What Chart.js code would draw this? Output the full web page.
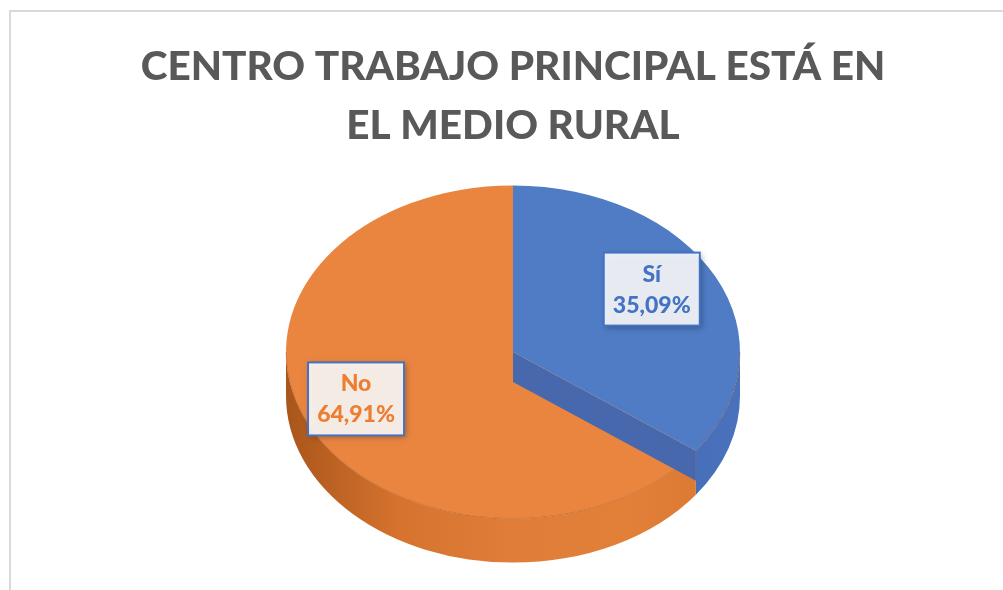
<!DOCTYPE html>
<html>
<head>
<meta charset="utf-8">
<script src="https://cdn.jsdelivr.net/npm/chart.js@4"></script>
<style>
  body { margin: 0; background: #fff; }
  #marco { position: absolute; left: 9px; top: 10px; width: 1100px; height: 700px;
           border-left: 2px solid #d9d9d9; border-top: 2px solid #d9d9d9; }
  #grafico { position: absolute; left: 0; top: 0; }
</style>
</head>
<body>
<div id="marco"></div>
<canvas id="grafico" width="1003" height="590"></canvas>
<script>
// Datos
const categorias = ['Sí', 'No'];
const valores = [35.09, 64.91];
const tituloLineas = ['CENTRO TRABAJO PRINCIPAL ESTÁ EN', 'EL MEDIO RURAL'];

// Estilo
const coloresCara = ['#507cc6', '#ea8540'];
const coloresTexto = ['#4472c4', '#ed7d31'];
const coloresLado = [
  ['#3a5ea4', '#3f66ad', '#4a72bc'],
  ['#a9561b', '#d6732e', '#e07d38', '#e2803a', '#d9772f']
];
const colorMuro = '#4868ad';
const distEtiqueta = [0.69, 0.77];

// Geometría del pastel 3D
const aplanado = 0.734;   // ry / rx
const grosor = 44;        // espesor lateral
const centroY = 352;
const muro = 30;

function geometria(chart) {
  const a = chart.getDatasetMeta(0).data[0];
  return { cx: a.x, cy: centroY, rx: a.outerRadius, ry: a.outerRadius * aplanado, yOrig: a.y };
}

const pastel3d = {
  id: 'pastel3d',
  beforeDatasetsDraw(chart) {
    const ctx = chart.ctx;
    const g = geometria(chart);
    const arcos = chart.getDatasetMeta(0).data;

    // caras laterales (sólo la mitad delantera)
    arcos.forEach((arc, i) => {
      const a1 = Math.max(arc.startAngle, 0);
      const a2 = Math.min(arc.endAngle, Math.PI);
      if (a2 <= a1) return;
      const grad = ctx.createLinearGradient(g.cx - g.rx, 0, g.cx + g.rx, 0);
      const stops = coloresLado[i];
      stops.forEach((c, k) => grad.addColorStop(k / (stops.length - 1), c));
      ctx.beginPath();
      ctx.ellipse(g.cx, g.cy, g.rx, g.ry, 0, a1, a2);
      ctx.ellipse(g.cx, g.cy + grosor, g.rx, g.ry, 0, a2, a1, true);
      ctx.closePath();
      ctx.fillStyle = grad;
      ctx.fill();
    });

    // aplastar la cara superior
    ctx.save();
    ctx.translate(0, g.cy);
    ctx.scale(1, aplanado);
    ctx.translate(0, -g.yOrig);
  },
  afterDatasetsDraw(chart) {
    const ctx = chart.ctx;
    ctx.restore();
    const g = geometria(chart);
    const arcos = chart.getDatasetMeta(0).data;

    // borde delantero suave entre cara y lateral
    ctx.beginPath();
    ctx.ellipse(g.cx, g.cy, g.rx, g.ry, 0, 0, Math.PI);
    ctx.strokeStyle = 'rgba(150,70,20,0.35)';
    ctx.lineWidth = 1;
    ctx.stroke();

    // muro radial de la porción "Sí"
    const e = arcos[0].endAngle;
    const px = g.cx + g.rx * Math.cos(e);
    const py = g.cy + g.ry * Math.sin(e);
    ctx.beginPath();
    ctx.moveTo(g.cx, g.cy);
    ctx.lineTo(px, py);
    ctx.lineTo(px, py + muro);
    ctx.lineTo(g.cx, g.cy + muro);
    ctx.closePath();
    ctx.fillStyle = colorMuro;
    ctx.fill();

    // etiquetas
    const total = valores.reduce((s, v) => s + v, 0);
    arcos.forEach((arc, i) => {
      const mid = (arc.startAngle + arc.endAngle) / 2;
      const lx = g.cx + g.rx * distEtiqueta[i] * Math.cos(mid) - 1;
      const ly = g.cy + g.ry * distEtiqueta[i] * Math.sin(mid) - 11;
      const w = 96, h = 73;
      ctx.save();
      ctx.shadowColor = 'rgba(0,0,0,0.35)';
      ctx.shadowBlur = 6;
      ctx.shadowOffsetX = 2;
      ctx.shadowOffsetY = 2;
      ctx.fillStyle = 'rgba(255,255,255,0.88)';
      ctx.fillRect(lx - w / 2, ly - h / 2, w, h);
      ctx.restore();
      ctx.strokeStyle = '#4472c4';
      ctx.lineWidth = 2;
      ctx.strokeRect(lx - w / 2, ly - h / 2, w, h);

      const pct = (valores[i] / total * 100).toFixed(2).replace('.', ',') + '%';
      ctx.fillStyle = coloresTexto[i];
      ctx.font = '900 23px Lato';
      ctx.textAlign = 'center';
      ctx.textBaseline = 'middle';
      ctx.fillText(categorias[i], lx, ly - 15);
      ctx.fillText(pct, lx, ly + 16);
    });
  }
};

const ctx = document.getElementById('grafico').getContext('2d');
new Chart(ctx, {
  type: 'pie',
  data: {
    labels: categorias,
    datasets: [{
      data: valores,
      backgroundColor: coloresCara,
      borderWidth: 0,
      radius: 227,
      clip: false
    }]
  },
  options: {
    responsive: false,
    animation: false,
    events: [],
    layout: { padding: { left: 23, right: 0, top: 10, bottom: 10 } },
    plugins: {
      legend: { display: false },
      tooltip: { enabled: false },
      title: {
        display: true,
        text: tituloLineas,
        color: '#595959',
        font: { family: 'Lato', size: 40.5, weight: '900', lineHeight: 1.44 },
        padding: { top: 28, bottom: 0 }
      }
    }
  },
  plugins: [pastel3d]
});
</script>
</body>
</html>
